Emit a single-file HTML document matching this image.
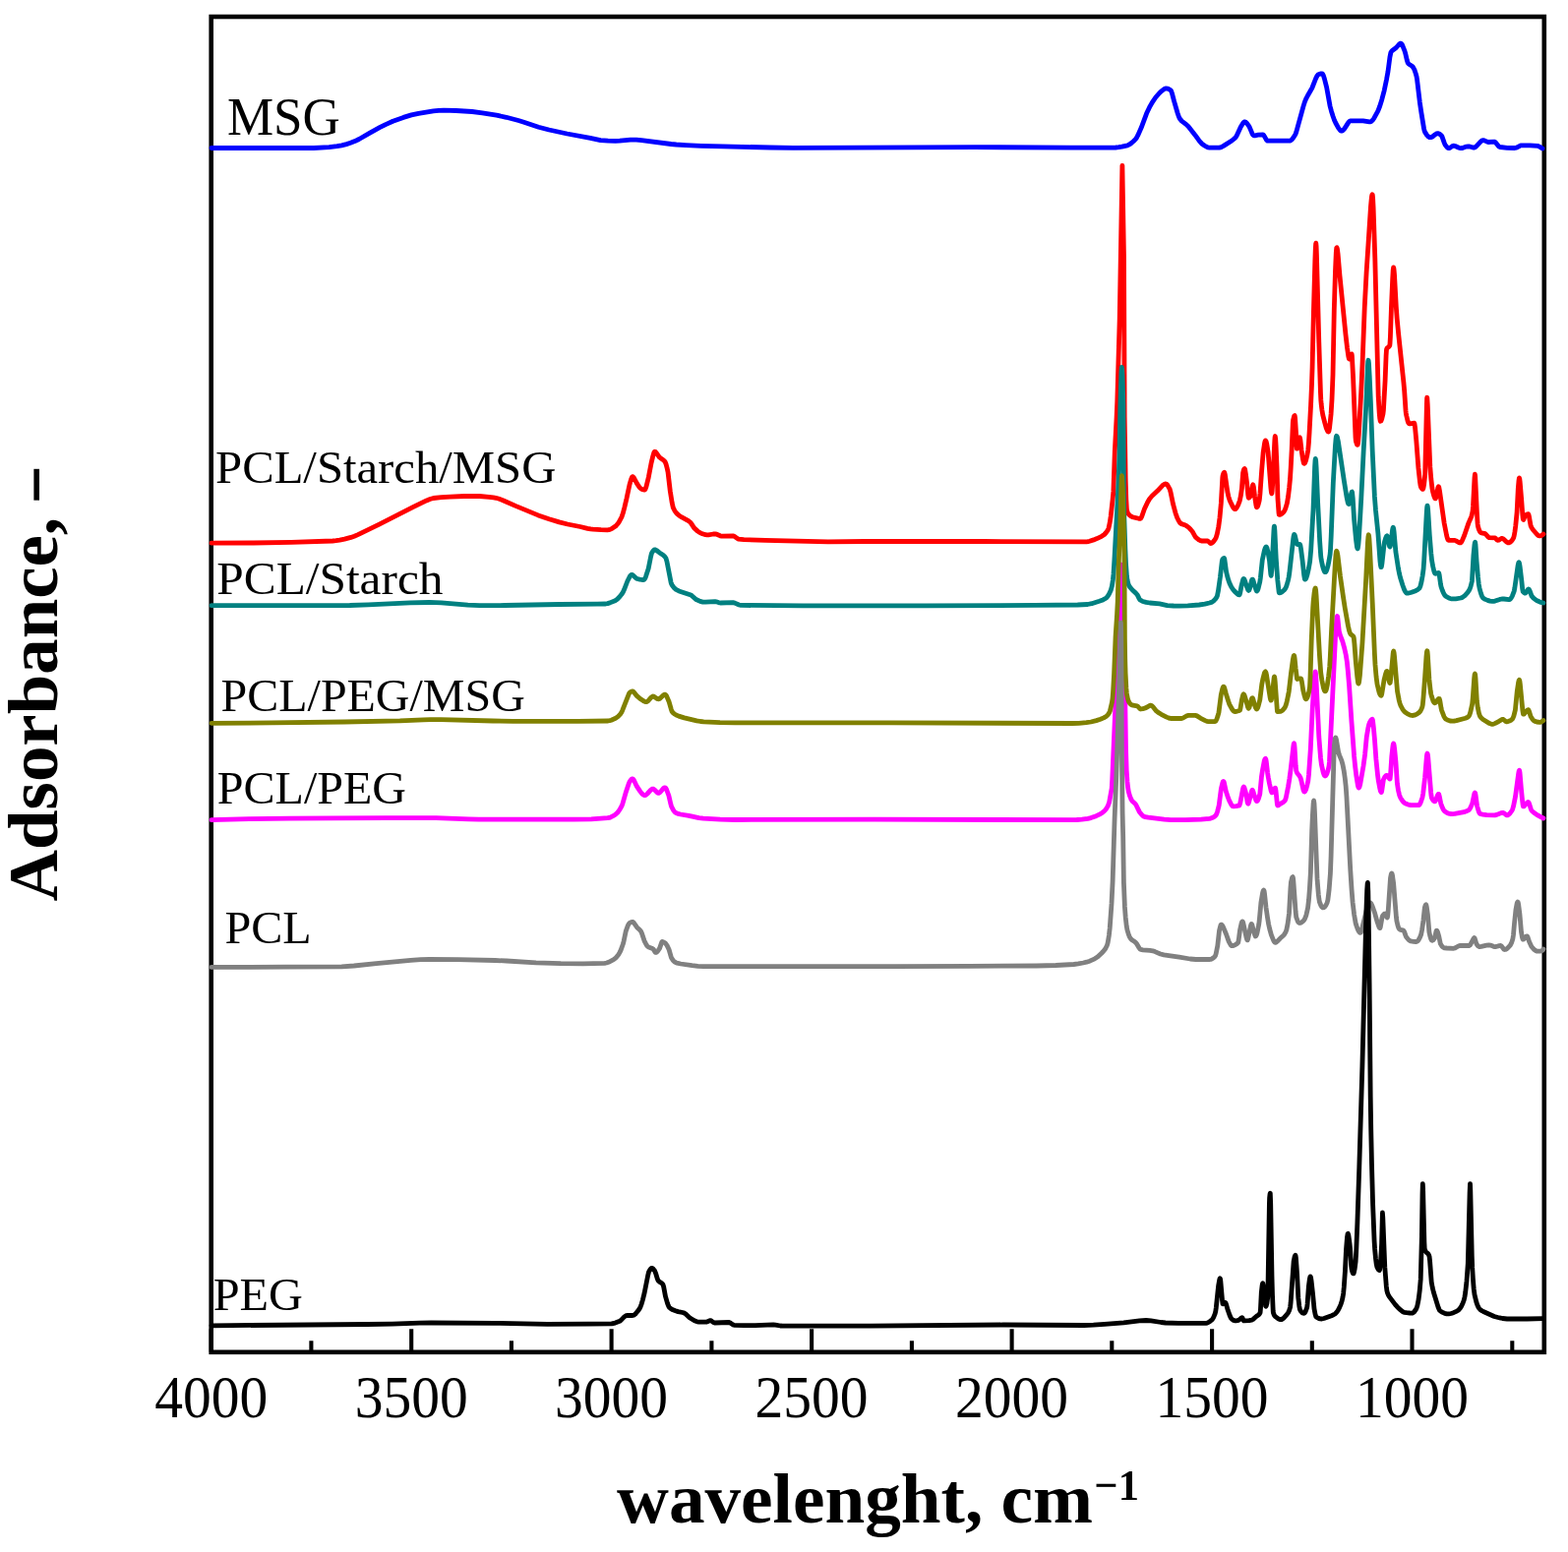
<!DOCTYPE html>
<html lang="en"><head><meta charset="utf-8"><title>FTIR spectra</title>
<style>html,body{margin:0;padding:0;background:#fff}body{width:1594px;height:1578px;overflow:hidden}svg{display:block}text{font-family:"Liberation Serif","DejaVu Serif",serif;fill:#000}.lab{font-size:46.5px}.big{font-size:54px}.tick{font-size:62px;text-anchor:middle}.ttl{font-size:72px;font-weight:bold}.curves path{fill:none;stroke-width:4.8px;stroke-linejoin:round;stroke-linecap:round}</style></head><body>
<svg width="1594" height="1578" viewBox="0 0 1594 1578">
<rect x="0" y="0" width="1594" height="1578" fill="#fff"/>
<rect x="214.7" y="17.0" width="1355.1" height="1357.8" fill="none" stroke="#000" stroke-width="4.6"/>
<path d="M214.7,1374.8V1351.2M418.2,1374.8V1351.2M621.6,1374.8V1351.2M825.1,1374.8V1351.2M1028.6,1374.8V1351.2M1232.1,1374.8V1351.2M1435.5,1374.8V1351.2M316.4,1374.8V1363.3M519.9,1374.8V1363.3M723.4,1374.8V1363.3M926.9,1374.8V1363.3M1130.3,1374.8V1363.3M1333.8,1374.8V1363.3M1537.3,1374.8V1363.3" stroke="#000" stroke-width="4.1" fill="none"/>
<g class="curves">
<path d="M215.0,150.5 319.0,150.5 334.6,149.6 342.7,148.7 347.3,147.8 352.2,146.6 356.3,145.3 360.7,143.6 365.0,141.5 375.6,135.4 385.9,129.7 392.0,126.6 399.4,123.2 410.1,119.4 418.3,116.9 425.5,115.3 440.6,112.9 446.0,112.4 451.0,112.2 463.7,112.5 480.0,113.5 490.3,114.8 504.7,117.2 514.7,119.3 527.0,122.5 532.6,124.2 547.5,129.2 558.1,132.0 576.5,136.0 600.1,140.3 610.5,142.6 618.1,143.1 625.7,143.3 630.0,143.1 640.8,142.1 646.9,142.1 652.2,142.6 682.2,146.5 687.5,147.0 697.1,147.6 712.8,148.3 734.8,148.9 782.7,150.0 806.3,150.3 990.6,149.6 1089.0,150.1 1134.1,150.0 1137.2,149.7 1140.5,149.2 1145.0,148.2 1146.6,147.7 1148.5,146.7 1150.4,145.3 1152.4,143.5 1154.5,141.4 1155.5,140.0 1156.7,137.7 1160.2,129.8 1165.6,115.3 1168.5,109.2 1171.2,104.3 1174.8,99.0 1178.5,94.7 1180.1,93.2 1183.1,90.8 1184.3,90.1 1185.4,89.9 1186.9,90.1 1188.4,90.7 1190.1,91.8 1190.7,92.7 1191.6,95.3 1193.5,102.7 1197.1,115.0 1198.3,118.5 1199.3,120.6 1201.4,123.1 1206.0,126.6 1208.2,128.8 1215.0,137.4 1218.8,142.7 1220.5,144.8 1221.9,146.2 1224.8,148.2 1226.6,149.3 1228.1,149.9 1229.5,150.1 1239.5,150.1 1241.5,149.6 1243.8,148.4 1252.3,143.0 1255.4,140.4 1256.4,139.3 1257.3,137.8 1261.3,129.0 1263.9,124.9 1264.6,124.1 1265.3,123.8 1266.1,124.0 1266.9,124.6 1269.5,127.9 1270.5,129.9 1273.0,135.9 1273.8,137.2 1274.5,137.8 1275.7,137.8 1279.0,137.2 1284.0,136.9 1284.5,137.3 1285.1,138.1 1287.4,142.2 1287.9,142.8 1288.4,143.1 1311.0,143.1 1311.7,143.0 1312.5,142.5 1313.7,141.4 1315.1,139.5 1316.8,136.7 1317.6,134.8 1324.9,108.4 1326.3,103.9 1327.5,100.9 1329.1,97.7 1333.8,89.5 1337.5,80.1 1338.8,77.4 1339.5,76.4 1340.1,75.8 1343.0,74.9 1344.1,74.8 1344.7,75.4 1345.5,77.1 1346.4,80.0 1348.6,88.6 1352.1,108.0 1353.5,113.2 1355.1,118.3 1356.5,122.2 1357.8,125.0 1360.6,130.1 1362.3,132.4 1363.1,133.0 1363.8,133.2 1364.5,133.0 1365.3,132.5 1366.9,130.6 1370.7,124.6 1371.8,123.4 1372.8,122.9 1385.7,122.8 1392.1,123.8 1393.2,123.8 1394.0,123.5 1395.3,122.3 1396.7,120.4 1400.8,112.8 1402.7,108.0 1404.8,101.2 1407.2,92.1 1409.6,80.4 1411.0,72.7 1412.9,58.3 1413.8,53.7 1414.5,52.4 1415.6,51.2 1419.3,48.5 1422.7,44.7 1423.4,44.2 1424.0,44.1 1424.7,44.5 1425.5,45.7 1427.9,51.6 1428.7,54.3 1430.4,61.6 1431.2,64.0 1432.3,65.3 1435.2,67.0 1436.5,68.3 1437.9,70.9 1439.2,74.7 1440.1,78.0 1440.5,80.3 1443.3,103.8 1444.9,114.7 1447.5,130.5 1448.0,132.7 1448.5,134.1 1450.4,137.1 1452.2,139.1 1453.5,139.7 1454.8,139.7 1456.2,139.0 1459.1,136.7 1460.4,135.9 1461.7,135.6 1463.1,136.0 1464.9,137.4 1465.9,138.6 1468.3,145.4 1469.1,147.2 1471.3,149.9 1472.1,150.5 1472.8,150.7 1473.9,150.4 1476.4,148.6 1477.6,148.2 1479.3,148.5 1483.1,150.2 1484.8,150.7 1486.7,150.5 1490.7,149.1 1492.5,148.8 1494.0,149.0 1497.4,150.0 1498.8,150.0 1499.8,149.6 1500.9,148.7 1505.6,143.6 1506.7,142.8 1507.7,142.6 1509.0,142.9 1511.8,144.1 1513.0,144.5 1518.4,144.1 1519.5,144.2 1520.7,145.2 1523.5,148.8 1524.3,149.4 1525.0,149.5 1532.2,150.3 1539.9,150.5 1541.6,150.1 1545.1,148.3 1546.6,147.8 1555.2,147.8 1563.1,148.3 1565.0,149.1 1568.0,151.0" stroke="#0000ff"/>
<path d="M215.0,552.2 257.7,552.0 296.3,551.3 338.2,550.0 341.6,549.7 345.3,549.1 350.2,548.1 356.7,546.4 360.1,545.2 363.9,543.6 385.5,533.1 419.8,515.7 433.6,508.9 437.1,507.5 440.6,506.5 448.6,505.7 457.6,505.1 471.9,504.5 481.1,504.3 487.5,504.5 497.1,505.3 501.6,505.9 504.1,506.3 507.5,507.3 511.3,508.7 524.1,514.4 547.1,523.9 558.2,527.7 568.5,530.9 577.0,533.0 589.7,535.5 597.3,537.3 600.4,537.9 603.0,538.2 611.0,538.7 617.6,538.8 618.9,538.7 620.5,538.2 622.3,537.3 625.3,535.3 626.5,534.3 627.8,532.8 629.2,530.8 632.0,525.6 633.3,521.8 634.8,516.1 636.9,507.3 639.9,493.2 641.7,486.9 642.6,484.9 642.9,484.6 643.3,484.7 644.3,485.6 647.5,491.6 649.7,494.9 650.8,496.3 652.2,497.2 654.1,497.9 655.4,498.1 655.9,497.6 657.0,494.6 659.3,485.3 662.1,470.6 663.8,463.6 664.8,460.3 665.2,459.5 665.6,459.2 666.3,459.4 667.0,460.1 670.3,464.8 671.4,465.7 674.0,467.4 675.2,468.5 676.2,469.8 677.0,471.7 678.1,475.8 679.1,480.6 681.3,499.4 683.2,511.3 684.3,516.1 685.9,519.3 687.8,521.9 690.5,524.3 692.7,525.7 699.9,529.6 701.5,530.8 702.6,532.1 705.7,536.9 709.3,540.1 711.1,541.4 712.7,542.2 717.3,543.7 718.8,543.9 720.2,543.9 725.1,543.0 727.0,542.9 728.6,543.2 732.2,544.8 733.8,545.2 745.0,544.8 746.4,545.3 749.4,547.4 750.7,548.1 756.2,548.6 778.1,549.3 841.9,550.8 878.9,550.5 1000.6,550.5 1104.8,550.8 1106.1,550.7 1107.6,550.3 1111.8,548.9 1115.1,547.6 1119.9,545.3 1122.6,543.5 1124.0,542.0 1125.5,540.1 1126.3,538.7 1127.0,537.1 1128.2,531.5 1129.2,524.8 1131.1,508.0 1131.9,499.4 1133.3,459.0 1135.1,424.5 1135.8,408.0 1138.2,324.5 1140.9,168.4 1142.5,261.4 1143.2,424.3 1144.2,488.5 1144.8,507.3 1145.4,517.8 1145.9,520.0 1146.5,521.5 1147.3,522.8 1148.6,524.1 1150.0,525.1 1151.5,525.7 1157.7,527.3 1159.1,527.4 1159.5,527.2 1160.1,526.4 1160.7,525.2 1163.4,517.5 1166.7,510.4 1168.6,507.2 1171.1,504.3 1176.7,499.1 1181.8,493.6 1183.8,492.3 1184.7,492.0 1185.5,492.1 1186.3,492.6 1187.1,493.6 1189.2,497.4 1190.2,501.2 1192.5,512.4 1195.0,521.7 1196.5,525.9 1198.1,529.3 1199.3,531.2 1200.1,532.1 1201.0,532.6 1204.4,533.7 1205.6,534.3 1208.5,536.4 1210.3,538.2 1212.0,540.2 1215.2,545.9 1217.2,547.7 1218.9,549.0 1220.2,549.7 1221.4,550.0 1227.7,550.0 1228.3,550.4 1230.3,552.4 1231.0,552.5 1231.9,552.2 1232.9,551.4 1234.0,550.1 1235.4,548.1 1236.2,546.6 1237.4,542.5 1238.8,535.4 1240.0,526.3 1241.3,511.9 1242.8,485.6 1243.0,484.0 1243.5,482.2 1244.0,480.9 1244.4,480.4 1244.6,480.3 1244.8,480.5 1245.3,482.4 1247.9,500.3 1248.8,504.6 1249.8,507.8 1250.9,510.5 1253.3,515.4 1254.5,517.2 1255.1,517.6 1255.7,517.7 1256.4,517.2 1257.1,516.4 1258.7,513.4 1260.3,509.1 1261.3,504.3 1262.4,496.7 1263.6,480.9 1264.4,477.7 1264.8,476.8 1265.2,476.5 1265.4,476.7 1265.7,477.6 1266.4,481.8 1267.7,492.0 1268.8,503.4 1269.2,505.8 1269.5,506.2 1270.3,505.7 1271.1,504.6 1272.0,502.7 1273.3,494.4 1273.6,493.2 1273.8,492.9 1273.9,493.0 1274.4,495.1 1275.5,504.3 1276.9,513.6 1277.4,515.6 1277.6,515.8 1277.9,515.7 1278.5,514.8 1279.1,513.2 1280.1,509.4 1280.4,507.6 1281.0,501.4 1282.5,480.2 1284.2,459.5 1285.6,450.3 1286.1,448.4 1286.4,447.9 1286.6,447.9 1287.1,448.7 1287.7,451.0 1289.1,459.4 1291.9,496.1 1292.4,500.5 1292.7,501.7 1292.8,501.8 1292.9,501.6 1293.2,499.4 1293.6,493.4 1295.8,448.2 1296.1,444.3 1296.3,443.5 1296.7,446.1 1297.1,452.9 1298.0,473.9 1299.0,507.5 1300.0,521.6 1300.3,523.3 1300.4,523.4 1301.2,523.3 1302.2,522.9 1303.2,522.2 1305.3,520.2 1306.0,518.9 1306.8,517.0 1308.4,511.6 1309.5,505.2 1310.7,495.3 1311.5,486.8 1312.2,475.7 1313.2,456.7 1314.3,430.3 1314.6,427.0 1315.5,423.5 1315.9,422.8 1316.2,422.6 1316.6,425.1 1317.6,441.5 1318.1,453.0 1318.4,456.2 1318.7,455.9 1319.1,454.5 1320.7,446.1 1321.1,445.0 1321.3,444.8 1321.4,444.9 1321.9,447.3 1323.0,457.3 1324.4,466.4 1325.2,470.3 1325.5,471.1 1325.8,471.4 1326.2,471.2 1326.7,470.5 1327.7,467.8 1328.8,463.0 1329.8,457.3 1330.4,450.6 1331.1,439.3 1332.6,411.2 1333.5,390.9 1334.1,372.8 1335.4,317.0 1336.8,266.2 1337.3,252.6 1337.6,248.1 1337.8,247.2 1338.1,250.2 1338.4,258.0 1340.8,347.8 1342.5,400.5 1342.8,406.7 1343.2,411.1 1343.9,416.8 1344.8,422.1 1346.9,430.4 1348.3,435.3 1349.5,438.1 1350.0,438.8 1350.5,439.0 1350.7,438.8 1351.0,438.1 1351.6,434.8 1353.1,420.9 1354.0,406.3 1355.0,381.0 1356.3,314.5 1357.5,275.0 1358.3,256.6 1358.7,252.2 1358.8,251.8 1359.0,251.7 1359.5,253.5 1360.1,258.3 1362.0,280.4 1368.0,340.6 1369.5,353.5 1370.8,362.4 1371.4,364.8 1371.7,365.0 1372.1,364.5 1373.4,361.0 1373.9,360.1 1374.1,360.0 1374.2,360.2 1374.4,361.7 1375.6,384.3 1378.0,444.5 1378.3,448.0 1378.7,449.8 1379.5,452.0 1379.8,452.3 1380.1,452.3 1380.4,451.2 1380.7,449.0 1381.3,441.6 1383.7,398.9 1385.0,370.6 1387.2,313.2 1389.1,277.1 1393.5,209.7 1394.4,200.3 1394.8,198.2 1395.1,197.7 1395.3,198.3 1395.6,201.4 1396.1,211.1 1397.8,262.3 1401.2,403.2 1402.2,420.1 1402.7,425.3 1403.2,428.0 1403.4,428.3 1403.9,428.0 1404.8,425.8 1406.0,420.7 1406.4,417.3 1408.1,387.0 1409.1,361.4 1409.5,355.4 1409.7,354.7 1410.3,353.7 1411.8,352.6 1412.4,351.9 1412.8,351.1 1413.0,349.7 1413.4,342.6 1414.5,311.3 1415.7,283.3 1416.2,274.5 1416.6,271.9 1417.0,273.4 1417.5,278.9 1419.3,312.0 1420.2,324.1 1421.7,339.7 1426.9,388.8 1427.7,397.8 1429.0,417.2 1429.3,420.1 1429.8,422.8 1431.1,428.2 1431.7,429.8 1432.2,430.6 1432.5,430.8 1433.2,430.8 1437.7,430.2 1438.0,430.9 1438.6,435.2 1439.8,448.1 1441.9,475.7 1443.4,489.3 1444.0,493.3 1444.5,495.3 1445.6,497.0 1446.1,497.4 1446.5,497.3 1447.0,496.1 1447.6,492.9 1448.7,482.5 1450.4,410.8 1450.6,405.0 1450.7,404.2 1450.8,404.5 1451.3,412.5 1453.8,474.7 1454.8,486.9 1455.9,496.3 1456.6,500.1 1457.7,504.2 1458.5,506.2 1458.9,506.8 1459.2,506.9 1459.6,506.4 1460.0,505.0 1461.9,495.6 1462.4,494.8 1462.8,495.5 1463.5,499.1 1468.2,532.1 1470.6,544.4 1471.3,547.1 1471.9,548.7 1472.2,549.1 1472.5,549.3 1478.9,549.4 1480.1,549.9 1483.2,551.6 1484.1,551.9 1484.8,551.9 1485.5,551.3 1486.2,550.1 1488.7,544.2 1493.0,531.6 1495.7,525.5 1496.4,523.0 1497.1,519.6 1497.5,514.7 1499.0,485.8 1499.4,482.2 1499.7,485.0 1501.4,521.2 1502.1,532.5 1502.4,534.8 1503.3,538.0 1504.2,540.2 1505.1,541.5 1506.0,541.8 1508.7,542.3 1509.7,542.6 1510.7,543.5 1512.8,545.9 1513.8,546.7 1519.6,546.8 1520.2,547.2 1521.7,548.8 1522.4,549.3 1523.6,549.1 1526.3,547.5 1527.0,547.4 1527.6,547.5 1528.9,548.4 1531.8,551.2 1533.0,551.8 1534.0,551.8 1535.1,551.3 1536.2,550.4 1537.4,548.9 1538.6,547.0 1539.2,544.9 1540.0,540.4 1540.8,534.2 1542.1,520.8 1543.3,496.7 1544.0,488.5 1544.3,486.5 1544.5,486.0 1544.8,486.8 1545.2,490.1 1546.6,506.6 1547.8,523.2 1548.2,527.0 1548.5,528.3 1548.7,528.4 1549.0,527.9 1550.4,524.1 1552.2,523.0 1553.1,522.7 1553.7,522.7 1554.0,523.3 1554.4,525.0 1556.0,534.2 1557.0,536.5 1558.3,538.5 1562.4,543.3 1563.4,544.2 1564.2,544.7 1565.2,544.9 1566.7,544.6 1567.9,544.0 1569.0,543.0" stroke="#ff0000"/>
<path d="M215.0,615.7 355.6,615.5 374.4,614.9 417.0,612.9 436.4,612.5 442.4,612.6 448.7,612.8 475.6,615.2 487.5,615.7 513.3,615.5 568.5,614.5 607.3,614.2 615.6,614.0 617.7,613.6 620.0,612.9 625.3,610.7 627.5,609.2 629.9,606.8 631.9,604.3 633.3,602.2 634.4,599.8 637.8,591.0 640.4,585.9 641.6,584.5 642.3,584.3 643.3,584.7 646.5,587.7 647.7,588.5 650.4,589.1 652.7,589.5 654.4,589.6 655.0,589.2 655.8,588.0 656.6,586.1 659.2,578.0 661.6,565.9 662.4,562.7 662.8,561.8 664.1,559.9 664.9,559.1 665.6,558.9 666.4,559.0 667.3,559.5 670.4,561.9 674.0,564.2 675.6,565.7 677.0,567.6 678.0,571.1 682.1,592.3 682.5,593.5 683.3,595.0 685.2,597.6 687.2,599.3 690.2,600.9 702.4,605.0 703.6,605.9 706.5,608.6 707.7,609.5 711.7,611.4 714.5,612.1 717.3,612.2 726.9,611.6 728.1,611.8 731.0,612.8 732.3,613.0 745.1,612.6 747.0,613.1 751.3,615.0 753.1,615.4 816.0,615.9 940.7,615.9 1051.9,615.4 1095.5,615.0 1105.6,614.5 1109.8,613.7 1117.5,611.3 1120.4,610.3 1123.4,608.7 1124.5,608.0 1125.3,607.2 1126.4,605.8 1127.6,603.8 1129.2,600.3 1130.4,595.9 1131.4,589.5 1132.0,583.5 1132.9,568.8 1136.2,507.6 1137.1,488.1 1138.0,461.4 1138.8,415.0 1139.3,395.7 1139.9,377.7 1140.3,373.3 1140.7,375.4 1141.1,382.1 1141.9,410.7 1142.4,503.7 1142.8,525.3 1143.9,558.6 1144.6,574.0 1145.5,586.2 1146.1,590.0 1146.8,593.0 1147.5,595.0 1148.6,596.9 1151.3,600.0 1154.5,602.9 1155.8,604.3 1156.5,605.4 1158.2,608.9 1158.9,609.9 1161.7,611.5 1165.1,612.4 1168.9,613.0 1178.8,613.9 1186.6,615.6 1193.1,616.0 1198.7,616.2 1207.5,615.9 1219.0,615.0 1224.8,614.2 1229.5,613.0 1232.2,612.1 1234.0,610.8 1235.9,608.6 1237.0,606.9 1237.4,605.9 1238.4,601.1 1240.4,587.0 1242.3,570.6 1242.8,568.7 1243.7,567.8 1244.4,567.5 1244.7,568.0 1245.0,569.5 1246.5,580.9 1247.7,586.0 1248.9,590.2 1250.1,593.4 1251.6,596.4 1253.4,599.3 1255.2,601.4 1258.3,604.2 1259.4,604.7 1259.9,604.8 1260.1,604.7 1260.7,602.8 1262.1,595.3 1263.2,591.0 1263.8,589.0 1264.3,588.4 1264.7,588.7 1265.2,589.6 1267.3,596.1 1268.7,599.6 1269.1,600.2 1269.4,600.4 1269.8,600.0 1270.3,598.8 1272.5,590.0 1273.0,589.1 1273.4,589.1 1274.1,590.6 1275.5,595.7 1276.8,599.5 1277.3,600.7 1277.6,601.0 1277.8,601.0 1278.4,600.3 1279.1,598.5 1280.8,591.5 1281.4,587.3 1283.3,569.2 1285.3,560.0 1286.1,557.4 1286.8,556.2 1287.1,556.0 1287.4,556.1 1287.9,556.9 1289.1,561.9 1290.5,570.1 1291.8,583.7 1292.1,585.1 1292.2,585.2 1292.3,585.0 1292.9,578.8 1294.9,540.1 1295.2,536.0 1295.4,535.1 1295.6,535.9 1295.9,539.4 1297.2,567.1 1298.8,590.0 1300.1,601.7 1300.4,602.8 1301.2,602.8 1302.4,602.4 1303.7,601.5 1305.1,600.3 1306.5,598.7 1307.2,597.4 1307.9,595.6 1309.4,590.3 1310.2,586.7 1310.8,582.7 1314.6,548.7 1315.1,545.1 1315.6,543.5 1315.8,543.4 1316.0,543.6 1316.4,544.6 1318.0,551.6 1318.6,553.3 1318.9,553.5 1321.4,553.5 1321.6,553.7 1321.9,554.5 1322.5,557.9 1324.1,570.2 1325.6,584.3 1326.3,588.6 1326.5,589.0 1326.7,589.1 1327.1,588.9 1327.5,588.4 1328.2,586.9 1329.0,584.3 1330.2,579.0 1331.6,571.2 1332.7,559.1 1335.0,518.3 1336.6,474.6 1337.0,468.1 1337.3,466.4 1337.7,468.7 1338.1,474.8 1339.7,512.2 1341.7,550.9 1342.7,565.3 1343.1,568.5 1344.2,574.1 1345.1,577.8 1346.0,580.3 1346.7,581.5 1347.0,581.7 1347.4,581.7 1348.1,581.0 1348.9,579.2 1349.9,575.7 1351.0,570.3 1352.1,563.6 1352.5,559.3 1353.2,545.3 1355.3,491.2 1357.4,453.8 1358.1,445.8 1358.4,443.9 1358.7,443.3 1359.1,443.7 1359.5,444.7 1360.5,449.5 1366.4,489.1 1369.1,505.8 1370.1,510.6 1370.5,511.8 1370.9,512.4 1371.2,512.5 1371.5,512.0 1372.1,509.8 1373.7,501.5 1374.2,500.2 1374.4,500.1 1374.6,500.5 1375.2,506.2 1376.6,528.3 1378.4,547.9 1379.4,555.8 1379.9,557.6 1380.1,557.8 1380.3,557.5 1380.9,553.8 1381.5,546.5 1383.8,506.6 1386.1,460.0 1388.7,413.0 1390.3,373.6 1390.7,367.8 1391.0,366.3 1391.2,366.9 1391.5,369.6 1392.2,382.2 1393.4,409.3 1395.2,458.7 1397.4,504.9 1398.5,519.0 1400.9,542.3 1402.9,569.9 1403.4,574.5 1403.9,576.7 1404.1,576.7 1404.4,576.0 1404.9,573.2 1407.1,553.1 1407.5,551.0 1408.4,547.8 1409.5,545.2 1410.0,544.8 1410.3,545.1 1410.9,547.2 1412.3,554.5 1412.7,555.7 1412.9,556.0 1413.1,555.9 1413.5,554.8 1413.9,552.4 1415.6,538.5 1416.0,536.7 1416.3,536.2 1416.7,537.4 1417.1,540.5 1418.9,561.2 1421.4,577.5 1422.5,583.1 1423.5,587.3 1425.9,595.0 1427.5,599.4 1428.5,601.4 1429.4,602.6 1430.2,603.1 1431.2,603.1 1434.1,602.5 1439.2,600.7 1441.3,599.5 1443.0,598.0 1444.0,595.7 1445.0,591.7 1446.1,585.6 1447.1,578.3 1447.7,569.6 1450.3,520.6 1450.7,515.5 1451.0,514.1 1451.3,515.0 1451.7,518.8 1453.3,544.5 1454.8,562.4 1455.6,569.9 1456.7,576.0 1457.8,580.7 1458.3,582.2 1458.8,583.1 1459.1,583.3 1459.4,583.3 1462.0,582.5 1462.5,582.5 1462.7,582.7 1463.2,584.7 1464.5,594.0 1465.0,596.5 1466.2,600.0 1467.4,602.9 1468.5,604.9 1469.6,606.2 1472.8,608.0 1474.2,608.5 1475.6,608.8 1479.9,608.8 1485.1,608.0 1487.0,607.2 1489.1,605.6 1492.0,602.4 1493.5,600.2 1494.3,598.5 1495.1,596.3 1496.4,591.0 1497.9,564.8 1498.9,554.4 1499.3,551.9 1499.6,551.2 1500.0,553.6 1501.1,570.6 1502.5,586.8 1503.3,594.1 1504.1,598.3 1505.4,603.2 1506.5,606.2 1507.6,607.9 1509.9,609.4 1512.3,610.4 1514.7,611.1 1517.1,611.4 1518.4,611.4 1519.8,611.1 1524.7,609.4 1526.7,609.0 1528.7,609.0 1534.0,609.7 1534.7,609.6 1535.4,609.1 1536.3,607.9 1537.3,606.1 1539.3,600.8 1539.9,597.5 1543.0,575.6 1543.6,572.7 1543.9,572.0 1544.1,571.8 1544.3,572.0 1544.6,572.9 1545.1,575.8 1546.8,590.0 1547.7,598.9 1548.2,601.5 1549.5,602.7 1550.1,603.0 1550.7,603.0 1551.5,602.2 1553.3,599.4 1553.8,599.0 1554.2,599.1 1555.0,600.4 1557.0,605.9 1558.9,608.1 1560.9,609.7 1563.2,611.1 1566.5,612.4 1569.0,613.0" stroke="#008080"/>
<path d="M215.0,833.6 253.3,832.7 294.5,832.1 339.6,831.8 393.1,831.6 443.4,831.6 476.4,832.9 486.8,833.1 582.8,833.2 601.1,832.8 617.7,831.7 619.4,831.4 621.2,830.7 623.2,829.7 625.5,828.3 627.7,826.3 630.0,823.1 631.9,819.8 632.8,817.6 636.1,806.1 639.3,796.4 640.0,794.9 641.4,792.9 642.3,792.0 643.0,791.8 643.6,792.1 644.3,793.0 647.3,799.4 650.6,804.4 652.5,806.9 654.1,808.3 655.4,808.7 656.7,808.2 658.1,807.0 661.6,803.2 662.7,802.4 663.6,802.1 664.3,802.2 665.1,802.7 668.4,806.0 669.2,806.4 669.9,806.3 671.3,805.3 674.6,801.4 675.5,800.9 676.2,800.8 676.9,801.5 677.6,802.7 679.9,809.0 681.9,817.7 682.5,819.8 684.6,823.8 685.6,825.2 686.5,826.1 687.2,826.6 688.5,827.1 691.8,828.0 700.2,829.3 710.6,831.6 715.0,832.2 732.2,833.1 747.9,833.5 889.1,833.2 1090.1,833.7 1094.7,833.5 1099.8,833.1 1105.8,832.3 1109.0,831.6 1114.3,829.7 1118.6,827.6 1120.4,826.4 1122.1,825.1 1123.6,823.6 1124.7,822.2 1126.3,819.3 1127.6,815.9 1130.2,801.4 1130.7,793.0 1134.1,712.8 1137.7,617.3 1138.8,582.6 1139.1,576.4 1139.4,574.0 1139.8,577.4 1140.2,586.3 1142.4,653.2 1143.5,694.8 1144.5,761.4 1145.2,783.3 1146.0,794.9 1146.6,800.5 1147.3,804.8 1148.4,808.9 1149.6,812.0 1150.4,813.5 1151.3,814.8 1153.8,817.0 1154.8,818.2 1158.3,825.4 1160.8,828.5 1162.6,830.1 1164.2,830.7 1167.4,831.2 1183.6,833.2 1190.2,833.7 1204.9,833.6 1220.9,833.1 1229.4,832.4 1230.8,832.1 1232.2,831.6 1234.1,830.6 1235.9,829.1 1236.7,827.7 1237.6,825.2 1239.2,818.9 1241.4,801.9 1242.8,796.0 1243.3,794.7 1243.7,794.4 1244.0,794.7 1244.4,795.7 1246.3,804.5 1248.5,811.2 1249.7,814.1 1251.4,817.4 1252.3,818.9 1253.1,819.7 1254.0,819.8 1256.8,819.6 1259.2,819.2 1260.0,818.9 1260.8,816.2 1263.6,801.8 1264.0,800.4 1264.3,800.1 1264.6,800.3 1265.0,801.0 1265.8,803.6 1266.9,808.1 1268.1,815.5 1268.6,817.1 1268.8,817.2 1269.0,817.0 1269.5,815.8 1272.3,804.9 1272.7,803.7 1273.1,803.3 1273.5,803.7 1273.9,804.6 1275.2,809.1 1276.8,813.6 1277.4,814.6 1277.9,814.6 1278.6,813.8 1279.3,812.3 1280.8,807.2 1282.4,790.2 1283.5,782.9 1285.2,773.9 1285.9,771.9 1286.2,771.5 1286.5,771.3 1286.9,772.2 1287.3,774.5 1288.6,785.8 1289.3,790.4 1290.5,796.8 1292.2,804.1 1292.8,805.7 1293.1,805.9 1293.4,805.8 1294.1,804.8 1295.7,801.6 1296.2,801.1 1296.5,801.1 1297.0,803.8 1298.4,817.7 1298.7,818.9 1299.0,819.0 1299.6,818.8 1301.9,817.1 1304.5,815.6 1305.7,814.7 1306.5,813.6 1307.3,811.1 1309.6,799.5 1310.8,792.1 1312.2,781.8 1314.8,759.0 1315.2,756.5 1315.5,755.8 1315.8,757.0 1316.1,760.2 1317.2,778.3 1317.7,783.6 1318.1,784.8 1318.8,786.3 1321.1,789.1 1322.0,790.7 1322.8,793.5 1325.0,803.3 1325.7,804.9 1326.0,805.1 1326.4,804.9 1327.0,804.1 1327.6,802.8 1328.9,798.1 1329.8,793.9 1330.5,787.5 1332.3,761.5 1334.2,721.0 1335.6,698.1 1336.5,686.5 1336.9,683.7 1337.2,683.0 1337.6,685.4 1338.0,691.4 1340.8,749.0 1342.5,770.5 1343.4,777.5 1345.2,785.4 1345.9,787.4 1346.5,788.6 1347.1,789.0 1347.8,788.6 1348.9,786.7 1350.1,782.9 1351.1,778.4 1351.5,774.2 1357.6,645.8 1358.7,630.8 1359.1,627.4 1359.4,626.5 1359.6,626.9 1359.9,628.7 1361.3,641.8 1362.4,645.9 1364.8,652.2 1366.7,659.0 1368.2,665.7 1369.3,672.6 1370.3,682.2 1371.6,697.6 1373.9,733.0 1376.6,768.9 1377.7,779.9 1378.7,788.0 1380.3,798.1 1380.8,800.2 1381.2,801.0 1381.6,800.8 1382.0,800.1 1382.8,797.2 1386.0,778.9 1387.6,767.1 1389.3,749.1 1390.7,740.8 1391.6,736.8 1392.4,734.4 1393.9,732.0 1394.5,731.5 1395.0,731.3 1395.3,731.8 1395.6,733.3 1396.3,739.3 1397.4,751.1 1398.9,772.0 1400.6,788.7 1401.3,793.8 1402.7,801.4 1403.5,804.6 1404.1,805.6 1404.4,805.4 1404.8,803.7 1406.4,792.7 1407.8,789.9 1409.0,788.6 1409.5,788.3 1410.0,788.3 1410.7,789.0 1412.3,791.5 1412.8,792.0 1413.0,792.0 1413.1,791.9 1413.6,787.5 1414.8,769.0 1415.9,758.9 1416.3,756.6 1416.6,756.0 1416.9,756.5 1417.2,757.9 1417.9,763.6 1419.0,775.3 1420.4,796.7 1421.5,803.7 1422.6,808.3 1423.7,811.1 1425.0,813.3 1426.3,815.0 1427.6,816.3 1428.8,817.1 1431.5,818.1 1434.2,818.6 1442.1,818.7 1442.6,818.5 1443.1,818.0 1444.1,816.2 1446.0,810.7 1446.7,806.8 1448.6,790.2 1450.3,769.6 1450.7,766.8 1451.0,766.1 1451.4,767.3 1451.8,770.6 1454.6,805.2 1455.0,809.0 1455.4,811.1 1456.3,812.9 1457.2,814.1 1458.0,814.8 1458.8,814.8 1459.6,813.6 1461.6,808.2 1462.1,807.4 1462.5,807.3 1462.8,807.8 1463.2,809.3 1464.7,816.8 1466.4,821.3 1467.3,823.2 1468.2,824.5 1468.9,825.1 1470.7,826.3 1472.5,827.1 1474.2,827.5 1476.1,827.6 1478.8,827.4 1482.9,826.7 1488.2,825.7 1490.8,824.8 1493.0,823.7 1493.8,822.9 1494.7,821.5 1496.7,817.1 1498.6,807.9 1499.0,806.5 1499.4,806.0 1499.7,806.5 1500.0,807.9 1501.6,819.6 1503.3,825.2 1504.0,826.8 1504.6,827.5 1507.5,828.1 1511.3,828.6 1519.6,828.9 1521.6,828.4 1525.9,826.6 1527.7,826.3 1528.8,826.7 1531.5,828.8 1532.3,828.9 1533.3,828.6 1535.0,827.0 1537.0,824.1 1537.7,822.7 1538.5,819.9 1540.5,810.0 1543.7,786.4 1544.1,784.1 1544.5,783.2 1544.8,784.0 1545.1,786.1 1546.4,801.7 1547.6,814.0 1548.1,818.2 1548.5,819.9 1549.1,819.9 1549.8,819.3 1552.7,815.9 1553.3,815.5 1553.8,815.6 1554.6,817.1 1556.4,823.0 1556.8,823.8 1557.6,824.8 1559.3,826.3 1563.2,828.9 1566.3,830.7 1569.0,832.0" stroke="#ff00ff"/>
<path d="M215.0,735.3 276.9,734.9 350.2,734.0 406.6,732.9 430.3,731.8 437.5,731.6 448.1,731.7 501.0,733.0 521.5,733.3 587.9,733.4 618.1,733.0 619.7,732.7 621.4,732.2 625.8,730.3 628.2,728.6 630.6,726.1 631.6,724.7 632.8,722.2 639.4,705.3 640.0,704.4 640.9,703.7 642.0,703.1 643.0,702.9 643.7,703.1 644.4,703.7 647.5,707.7 651.3,710.8 654.3,712.8 655.5,713.3 656.7,713.6 657.7,713.5 658.6,713.0 661.9,709.1 663.3,708.1 664.0,708.0 664.8,708.2 668.1,710.4 668.9,710.7 669.6,710.8 670.3,710.6 671.1,710.0 674.7,706.6 675.6,706.1 676.3,706.2 677.0,706.8 677.7,707.9 680.0,713.2 682.3,721.2 683.1,723.4 684.1,724.6 685.7,726.0 687.4,727.0 690.0,728.1 695.6,729.9 708.3,732.8 712.1,733.5 715.4,733.8 731.9,734.6 747.3,734.9 904.4,734.9 1090.3,735.5 1096.8,735.3 1104.4,734.7 1109.0,734.0 1114.5,732.6 1118.7,731.3 1122.0,729.9 1124.8,728.2 1126.6,726.3 1127.8,724.4 1128.4,722.9 1130.4,714.3 1131.0,710.4 1131.7,701.1 1132.6,684.7 1134.1,646.7 1135.6,624.0 1136.2,612.0 1137.2,574.0 1138.7,536.0 1139.7,498.0 1140.1,487.3 1140.4,483.6 1140.6,484.4 1140.9,488.1 1141.5,500.6 1142.8,555.7 1143.0,574.0 1143.4,650.0 1143.7,669.8 1144.1,684.3 1144.9,699.7 1145.3,704.3 1145.8,707.6 1146.5,710.8 1147.3,713.1 1148.6,715.2 1149.9,716.4 1151.9,717.2 1156.1,717.9 1156.9,718.5 1158.7,720.5 1159.2,720.9 1159.7,721.0 1161.7,720.7 1165.0,719.6 1168.9,717.4 1169.7,717.2 1170.4,717.3 1171.2,717.8 1172.0,718.6 1175.5,722.9 1177.4,724.4 1180.5,726.3 1185.9,729.1 1187.8,729.9 1189.4,730.4 1190.6,730.5 1201.2,730.5 1202.7,730.0 1206.1,728.0 1207.6,727.4 1215.0,727.3 1216.8,727.9 1220.6,730.3 1225.1,732.6 1226.8,733.3 1228.5,733.6 1235.2,733.6 1236.0,733.0 1236.9,731.2 1237.9,728.3 1239.0,724.4 1241.3,706.3 1242.8,700.1 1243.3,698.7 1243.8,698.1 1244.0,698.1 1244.3,698.4 1244.8,699.6 1246.3,705.2 1248.8,713.3 1249.8,716.1 1252.5,721.0 1253.5,722.4 1254.4,723.2 1255.2,723.5 1257.3,723.3 1259.1,722.8 1260.5,722.1 1261.0,720.2 1262.3,712.1 1263.5,707.1 1263.9,706.1 1264.2,705.8 1264.8,706.3 1265.4,707.8 1268.6,719.0 1269.1,720.2 1269.3,720.3 1269.5,720.2 1270.0,719.3 1272.2,711.1 1272.7,709.9 1273.1,709.6 1273.4,709.8 1273.8,710.7 1275.3,716.3 1276.6,719.8 1277.3,720.9 1277.6,721.0 1277.9,720.8 1278.5,719.8 1279.1,718.2 1280.8,711.6 1282.8,695.5 1284.0,689.5 1285.3,684.6 1285.9,683.3 1286.4,682.9 1286.9,683.6 1287.5,686.1 1291.1,708.9 1291.6,711.2 1292.0,712.1 1292.2,712.0 1292.4,711.6 1292.8,709.5 1294.1,699.2 1295.1,689.5 1295.4,688.1 1295.5,688.0 1295.6,688.1 1295.9,689.7 1296.3,693.8 1298.4,722.8 1298.6,723.5 1301.8,723.4 1302.8,722.9 1303.8,722.2 1306.2,719.4 1307.1,717.3 1308.2,713.3 1309.7,706.3 1310.3,702.8 1312.5,684.0 1314.4,670.4 1315.0,667.4 1315.3,666.7 1315.5,666.5 1315.8,667.2 1316.1,669.1 1317.2,680.1 1318.5,690.1 1318.7,690.5 1322.0,689.9 1322.5,689.9 1322.7,690.1 1323.3,692.5 1324.8,702.3 1325.9,706.8 1327.0,710.2 1327.5,710.8 1328.0,710.7 1328.9,709.4 1329.8,706.9 1330.7,703.2 1331.5,698.6 1332.0,688.7 1333.2,651.1 1334.7,617.6 1335.1,611.8 1336.0,603.4 1336.6,599.5 1336.9,598.4 1337.2,598.0 1337.6,599.7 1338.1,605.9 1341.5,667.0 1342.7,683.9 1343.8,691.4 1345.3,698.9 1346.4,702.2 1346.9,702.9 1347.4,702.9 1347.9,702.2 1348.4,700.8 1349.4,696.0 1350.6,687.6 1351.7,677.9 1352.3,667.9 1353.7,638.0 1357.2,575.1 1358.0,564.0 1358.4,561.0 1358.7,560.3 1359.0,560.6 1359.3,561.4 1359.9,564.4 1362.5,586.1 1365.5,606.9 1367.3,618.5 1370.5,636.5 1371.5,641.0 1372.4,643.7 1373.3,645.1 1374.9,646.2 1375.5,646.8 1376.0,647.6 1376.3,648.8 1376.9,654.5 1378.3,673.0 1379.8,688.4 1380.5,693.7 1380.8,694.8 1381.1,695.0 1381.4,694.2 1381.8,692.1 1382.5,685.9 1384.9,654.4 1388.7,588.2 1390.4,552.3 1390.9,545.7 1391.3,543.8 1391.6,544.7 1391.9,547.4 1392.6,558.4 1395.3,614.6 1397.4,665.0 1398.0,676.0 1399.0,687.6 1400.0,695.5 1401.9,703.5 1402.7,705.8 1403.5,707.1 1403.9,707.4 1404.2,707.3 1404.7,705.8 1407.0,691.6 1408.6,685.0 1409.5,682.7 1409.9,682.5 1410.3,683.3 1412.3,693.0 1412.8,694.4 1413.0,694.5 1413.2,694.2 1413.8,689.9 1416.1,665.1 1416.4,662.9 1416.7,662.1 1417.1,663.4 1417.5,666.9 1420.5,702.7 1422.2,711.8 1423.1,715.2 1424.0,717.7 1425.9,721.2 1427.9,723.7 1429.0,724.6 1430.5,725.6 1433.6,727.1 1435.7,727.5 1437.8,727.2 1440.3,726.1 1442.9,724.2 1444.0,722.9 1445.0,721.0 1445.9,718.6 1446.3,716.5 1447.0,709.2 1448.6,688.2 1450.0,667.2 1450.4,663.2 1450.8,661.7 1451.1,662.9 1451.4,666.2 1452.9,690.7 1454.2,702.5 1454.7,705.5 1455.3,707.8 1457.0,712.9 1457.7,714.2 1458.4,714.8 1459.0,714.7 1459.6,714.2 1462.2,710.7 1462.8,710.3 1463.2,710.5 1463.8,712.5 1465.1,720.3 1465.6,722.4 1468.0,728.6 1469.0,730.3 1469.9,731.2 1472.1,732.3 1474.2,733.0 1476.0,733.2 1478.1,733.1 1480.6,732.6 1489.7,730.2 1492.0,729.2 1492.9,728.6 1493.3,728.1 1494.1,726.4 1494.9,723.8 1496.7,715.4 1497.3,709.1 1498.7,689.2 1499.1,685.8 1499.4,685.0 1499.7,686.2 1500.0,689.5 1501.4,713.1 1502.3,719.6 1503.4,724.9 1504.4,728.0 1505.7,729.8 1507.6,731.5 1514.3,735.6 1515.7,736.1 1517.0,736.3 1518.4,736.1 1520.1,735.4 1523.5,733.6 1526.1,731.9 1527.2,731.4 1527.8,731.3 1528.3,731.5 1530.6,733.4 1531.6,733.8 1533.0,733.6 1534.4,733.1 1535.9,732.3 1537.4,731.1 1538.1,730.0 1538.9,727.9 1540.4,721.9 1542.2,703.4 1543.6,693.9 1544.1,691.9 1544.5,691.3 1544.9,692.4 1545.3,695.3 1547.9,722.5 1548.5,726.1 1548.9,726.2 1549.6,725.7 1552.4,722.4 1553.1,721.8 1553.7,721.7 1554.0,722.1 1554.4,723.0 1556.1,728.5 1557.9,731.3 1559.4,732.9 1560.4,733.4 1562.3,734.0 1565.1,734.4 1566.0,734.3 1566.9,733.9 1569.0,732.5" stroke="#808000"/>
<path d="M215.0,983.4 291.0,983.2 347.3,982.8 359.8,982.0 382.5,979.6 417.5,976.4 427.7,975.7 436.6,975.4 465.4,975.6 503.4,976.5 515.0,977.0 544.9,978.8 570.2,979.7 592.8,979.8 614.7,979.3 616.6,979.0 618.7,978.3 623.8,975.7 625.1,974.7 626.4,973.5 629.0,970.2 630.0,968.4 631.1,966.1 633.3,960.0 634.1,957.1 636.2,946.9 638.2,941.4 639.1,939.5 640.0,938.4 641.6,937.7 643.0,937.4 643.7,937.6 644.4,938.3 647.6,942.9 650.4,945.5 651.6,947.0 652.5,949.0 655.0,956.6 656.6,959.7 657.8,961.6 658.6,962.5 659.4,963.0 662.7,964.2 663.9,964.8 664.5,965.5 665.7,967.7 666.3,968.4 666.9,968.5 667.6,968.1 669.2,966.3 670.6,964.1 672.7,958.0 673.1,957.5 674.0,957.6 675.1,958.1 676.4,959.0 678.0,961.1 680.1,965.5 682.4,973.7 684.2,976.4 686.1,978.2 687.0,978.7 688.3,979.1 692.0,980.0 703.5,981.7 709.5,982.3 715.4,982.6 909.7,982.6 985.8,982.4 1054.0,982.0 1073.3,981.5 1091.6,980.5 1096.1,979.9 1101.1,979.0 1104.6,978.2 1107.8,977.2 1112.9,974.8 1116.0,972.8 1120.0,969.0 1122.4,966.4 1123.8,964.5 1125.5,961.0 1126.2,958.4 1127.4,951.1 1128.2,944.0 1130.0,918.9 1131.1,896.4 1133.1,832.3 1134.8,789.4 1136.1,750.9 1139.4,633.0 1139.7,642.6 1139.9,660.0 1140.4,763.4 1141.1,826.7 1141.7,850.7 1142.4,897.4 1143.4,921.9 1144.2,932.5 1145.2,941.4 1145.9,945.4 1147.3,950.1 1148.4,952.7 1149.5,954.5 1150.8,955.8 1153.6,957.6 1154.8,958.6 1155.8,960.0 1158.0,963.8 1159.1,965.1 1159.7,965.4 1161.9,965.8 1169.0,966.4 1171.8,966.8 1174.1,967.6 1179.7,970.0 1183.2,970.9 1188.2,971.7 1198.8,973.2 1209.9,975.0 1215.7,975.5 1229.4,975.5 1230.6,975.4 1231.9,974.9 1233.5,973.9 1235.1,972.4 1235.6,971.5 1236.1,969.9 1237.8,961.6 1239.5,946.3 1240.6,941.7 1241.0,940.6 1241.4,940.1 1241.8,940.2 1242.3,940.6 1243.3,942.1 1246.4,949.5 1249.2,957.4 1251.0,960.6 1251.5,961.2 1252.0,961.6 1253.7,961.5 1255.5,960.8 1257.2,959.7 1258.7,958.2 1259.2,955.7 1260.5,945.8 1262.0,938.9 1262.5,937.4 1262.9,936.9 1263.1,936.9 1263.4,937.3 1263.9,938.8 1267.1,953.4 1267.5,954.9 1267.9,955.8 1268.2,955.9 1268.6,954.9 1271.3,942.0 1271.8,940.2 1272.2,939.5 1272.5,939.6 1272.9,940.5 1274.3,946.3 1275.7,950.9 1276.3,952.0 1276.8,951.7 1277.4,950.5 1278.0,948.5 1279.7,940.0 1280.2,936.1 1281.9,917.7 1283.6,907.7 1284.2,905.6 1284.7,905.0 1285.1,905.9 1285.5,908.4 1287.0,922.5 1288.5,932.9 1289.6,939.5 1290.7,944.5 1292.4,950.7 1294.7,956.3 1295.4,957.5 1296.0,958.2 1296.5,958.3 1297.3,958.1 1298.5,957.2 1301.2,954.3 1304.0,951.8 1305.2,950.6 1307.0,947.8 1307.9,945.2 1309.2,938.5 1310.5,928.5 1311.9,903.5 1312.4,897.1 1313.4,892.9 1313.8,891.9 1314.2,891.6 1314.5,892.6 1314.9,896.3 1317.1,926.6 1317.7,932.4 1319.1,936.3 1319.8,937.6 1320.5,938.3 1321.1,938.5 1322.1,938.3 1323.1,937.8 1324.3,936.9 1325.5,935.8 1326.3,934.5 1327.2,932.4 1328.0,929.9 1329.5,923.4 1330.5,914.9 1331.4,903.2 1332.4,886.3 1333.7,843.7 1334.4,828.8 1335.1,817.2 1335.4,814.6 1335.6,814.1 1336.0,816.9 1336.5,826.5 1339.0,893.2 1340.3,909.2 1340.9,914.2 1341.4,917.0 1342.8,920.5 1343.8,922.2 1344.7,922.9 1345.7,922.7 1346.7,922.0 1347.9,920.3 1349.1,918.0 1349.9,914.8 1351.1,904.9 1352.4,888.3 1353.1,870.6 1356.2,762.1 1356.4,757.8 1356.8,753.9 1357.3,750.8 1357.7,749.9 1358.1,750.5 1358.5,752.1 1360.6,764.7 1361.6,767.8 1363.8,773.2 1365.0,777.5 1366.2,783.7 1367.3,791.5 1368.2,799.8 1368.9,809.7 1372.8,885.0 1374.1,905.0 1375.1,917.5 1376.6,929.8 1378.1,938.5 1378.7,940.7 1380.1,944.5 1381.1,946.6 1382.0,947.9 1382.5,948.3 1383.0,948.4 1383.4,948.0 1383.8,947.1 1384.6,944.3 1389.1,925.7 1391.3,920.0 1392.0,918.8 1392.7,918.1 1393.2,918.0 1393.8,918.5 1395.1,921.2 1397.4,927.7 1400.0,937.1 1401.7,942.1 1402.5,943.5 1402.9,943.6 1403.3,942.6 1405.0,932.8 1405.4,931.4 1405.9,930.6 1407.1,929.3 1407.6,929.1 1408.1,929.0 1408.6,929.7 1409.8,932.5 1410.2,933.0 1410.4,932.9 1410.8,930.6 1411.2,926.1 1413.5,892.7 1414.2,889.2 1414.5,888.3 1414.8,888.0 1415.1,888.4 1415.5,890.1 1416.6,897.8 1419.4,932.4 1419.9,936.4 1420.9,940.7 1421.8,943.4 1422.6,944.7 1423.7,945.3 1426.2,945.8 1427.0,946.3 1427.6,947.4 1429.0,951.4 1429.6,952.8 1431.7,955.3 1433.4,956.6 1434.2,956.9 1437.0,957.3 1439.4,957.5 1440.4,957.4 1441.1,956.9 1441.9,956.0 1443.6,952.8 1444.7,950.0 1445.6,945.4 1446.9,936.1 1448.3,923.0 1449.0,920.6 1449.3,920.0 1449.6,919.8 1449.9,920.2 1450.3,922.0 1451.4,929.8 1452.9,947.8 1453.8,951.8 1454.7,954.7 1455.3,955.9 1455.9,956.3 1456.8,955.9 1457.8,954.7 1458.3,953.9 1458.6,953.0 1460.0,946.9 1460.3,946.2 1460.5,946.1 1460.7,946.2 1461.5,947.7 1462.8,952.2 1464.3,959.6 1465.8,962.0 1466.6,962.8 1467.4,963.4 1468.3,963.8 1470.8,964.0 1477.8,964.3 1479.2,963.9 1482.5,962.0 1483.9,961.5 1493.7,961.5 1494.2,961.1 1494.8,960.4 1498.1,954.1 1498.7,953.5 1499.0,953.7 1499.3,954.4 1500.9,959.6 1502.3,961.6 1503.4,962.5 1504.2,962.6 1505.8,962.4 1511.3,961.2 1513.6,960.9 1515.2,961.1 1518.3,962.3 1519.6,962.6 1520.9,962.5 1524.1,961.7 1525.6,961.5 1526.5,962.1 1528.9,965.3 1529.5,965.5 1530.6,965.3 1531.6,964.8 1532.7,963.9 1535.3,961.1 1536.7,958.4 1537.9,954.5 1538.5,950.5 1539.6,937.9 1541.0,924.6 1542.1,918.8 1542.5,917.5 1542.9,917.0 1543.3,917.7 1543.7,919.7 1544.9,929.0 1546.5,947.7 1547.4,952.8 1548.0,954.9 1548.3,955.2 1548.9,955.0 1551.4,952.2 1552.0,951.9 1552.5,951.9 1553.1,953.0 1554.5,957.3 1556.9,962.5 1559.3,965.2 1561.5,966.8 1562.4,967.1 1563.2,967.2 1565.2,967.1 1567.1,966.8 1568.0,966.4 1569.0,965.0" stroke="#808080"/>
<path d="M215.0,1347.8 373.7,1346.5 398.8,1346.1 426.5,1345.2 438.3,1345.0 502.9,1345.3 556.4,1346.3 598.4,1346.2 621.8,1345.9 625.4,1345.1 630.0,1343.3 631.5,1342.1 634.8,1338.7 636.4,1337.7 637.2,1337.5 643.0,1337.5 644.3,1337.1 645.3,1336.5 646.3,1335.6 648.6,1332.8 650.4,1330.1 651.1,1328.7 652.1,1326.0 653.4,1321.6 655.0,1315.2 658.6,1297.1 659.4,1293.7 659.8,1292.7 661.1,1290.5 661.9,1289.6 662.6,1289.3 663.2,1289.5 663.9,1290.0 665.7,1292.3 666.5,1294.3 668.3,1300.2 669.1,1302.0 670.2,1303.1 672.8,1304.7 674.0,1306.1 674.7,1308.5 676.5,1318.2 678.5,1325.1 679.3,1327.3 680.0,1328.8 680.5,1329.4 682.0,1330.6 684.1,1331.8 686.7,1332.8 689.3,1333.6 693.9,1334.5 695.8,1335.1 697.1,1336.0 701.0,1339.7 705.9,1342.7 708.8,1343.9 710.4,1344.1 718.2,1344.1 719.1,1343.8 721.1,1342.8 722.0,1342.6 723.0,1342.9 725.3,1344.6 726.4,1345.0 741.1,1344.5 742.3,1345.0 745.0,1346.9 746.2,1347.3 756.2,1347.6 767.8,1347.7 786.1,1346.9 788.3,1347.1 793.3,1348.0 795.3,1348.2 884.8,1348.1 1020.1,1347.0 1102.2,1347.5 1111.6,1347.2 1122.9,1346.4 1142.3,1344.8 1158.4,1342.9 1165.2,1342.5 1170.1,1342.8 1180.4,1344.5 1184.8,1345.0 1198.0,1345.4 1225.8,1345.4 1227.2,1345.1 1228.7,1344.4 1230.4,1343.2 1232.1,1341.8 1232.9,1340.8 1233.7,1339.4 1235.2,1335.6 1235.8,1333.2 1236.3,1329.6 1238.6,1307.4 1239.6,1301.6 1240.0,1300.2 1240.3,1299.8 1240.6,1300.7 1240.9,1303.1 1242.6,1322.7 1243.0,1325.7 1243.1,1325.8 1243.6,1325.7 1245.4,1324.5 1245.7,1324.5 1246.0,1324.8 1246.6,1326.4 1248.1,1331.8 1250.3,1337.9 1251.5,1340.4 1252.4,1341.3 1254.0,1342.4 1255.2,1342.8 1256.3,1342.9 1257.9,1342.6 1259.7,1342.1 1261.9,1340.0 1262.7,1339.7 1263.1,1340.1 1264.1,1342.4 1264.5,1342.9 1269.8,1342.6 1272.5,1342.1 1273.9,1341.4 1277.4,1338.3 1279.7,1336.7 1280.4,1335.9 1281.1,1334.6 1281.5,1330.1 1282.3,1314.2 1283.1,1307.1 1283.6,1304.9 1283.7,1304.8 1283.9,1305.1 1284.3,1307.3 1286.6,1327.9 1286.8,1328.3 1287.2,1327.9 1288.0,1324.8 1288.7,1319.4 1288.9,1314.6 1290.4,1224.0 1290.6,1218.0 1291.0,1214.2 1291.3,1213.2 1291.7,1223.6 1293.0,1297.9 1293.5,1316.5 1294.2,1332.9 1294.4,1334.6 1295.2,1336.9 1295.7,1337.7 1296.5,1338.6 1299.2,1340.7 1301.1,1341.5 1302.0,1341.6 1302.8,1341.5 1303.8,1341.0 1305.0,1340.1 1308.1,1336.7 1309.6,1334.6 1310.7,1332.2 1311.6,1329.1 1312.1,1324.8 1315.1,1282.8 1316.1,1277.8 1316.5,1276.7 1316.9,1276.3 1317.1,1276.8 1317.4,1278.9 1318.0,1286.6 1318.7,1297.5 1319.8,1319.4 1320.8,1328.1 1321.3,1330.9 1321.7,1332.1 1322.7,1333.5 1323.7,1334.6 1324.7,1335.2 1325.7,1335.3 1326.3,1334.9 1327.0,1333.9 1328.5,1329.9 1328.8,1328.5 1329.1,1325.5 1330.4,1307.5 1331.4,1300.2 1331.8,1298.4 1332.1,1297.9 1332.3,1298.1 1332.6,1299.2 1333.2,1303.2 1334.5,1314.9 1336.0,1330.8 1337.0,1336.1 1337.8,1338.7 1338.7,1339.5 1340.4,1340.4 1342.0,1340.9 1343.6,1341.0 1345.9,1340.5 1353.6,1337.7 1355.7,1336.8 1357.5,1335.7 1358.7,1334.4 1360.0,1332.6 1361.6,1329.6 1363.1,1326.1 1364.1,1323.0 1365.0,1319.1 1365.7,1314.8 1366.3,1308.4 1367.4,1292.5 1368.5,1270.1 1369.5,1258.0 1370.1,1254.4 1370.3,1254.3 1370.5,1254.7 1370.9,1256.2 1372.0,1264.1 1372.6,1270.0 1373.7,1287.5 1374.0,1290.0 1374.7,1292.9 1375.2,1294.3 1375.6,1294.9 1376.0,1294.9 1376.3,1294.3 1377.1,1290.6 1378.1,1283.0 1378.7,1272.8 1379.9,1242.9 1381.8,1186.5 1384.9,1083.7 1388.9,927.0 1389.7,904.8 1390.1,898.8 1390.4,897.4 1390.8,906.1 1391.2,928.3 1392.1,999.9 1393.2,1115.6 1393.7,1147.5 1394.5,1184.2 1395.6,1224.2 1397.1,1262.1 1397.6,1270.0 1398.5,1279.8 1399.2,1285.3 1399.9,1288.4 1401.2,1290.8 1401.8,1291.4 1402.3,1291.6 1402.7,1290.6 1403.2,1286.7 1403.9,1277.3 1404.6,1264.6 1405.4,1233.0 1405.8,1238.0 1407.8,1288.4 1409.3,1307.8 1409.9,1312.4 1410.5,1314.6 1411.3,1316.6 1412.3,1318.4 1418.5,1326.6 1420.4,1328.7 1423.2,1331.4 1424.8,1332.8 1426.1,1333.7 1427.4,1334.3 1430.0,1334.7 1433.2,1335.0 1435.8,1335.1 1436.6,1334.7 1437.5,1334.0 1439.6,1331.0 1440.3,1329.4 1440.9,1327.4 1442.1,1321.2 1443.3,1311.6 1444.2,1300.9 1445.4,1256.7 1446.0,1214.5 1446.3,1203.7 1446.6,1209.0 1447.9,1263.1 1448.2,1269.4 1448.7,1271.1 1449.3,1272.4 1450.0,1273.3 1451.4,1274.4 1452.0,1275.1 1452.6,1276.2 1453.1,1277.7 1453.6,1282.2 1455.2,1303.5 1456.2,1309.1 1457.4,1314.0 1462.1,1329.2 1463.2,1331.8 1463.7,1332.5 1464.3,1333.0 1466.5,1334.4 1468.6,1335.3 1470.7,1335.8 1472.7,1335.9 1475.1,1335.5 1477.6,1334.7 1481.0,1333.1 1482.8,1331.9 1484.3,1330.2 1485.7,1327.9 1487.1,1325.0 1488.2,1322.0 1489.0,1318.5 1489.7,1314.2 1491.0,1302.5 1492.3,1284.3 1494.1,1212.5 1494.5,1203.7 1494.8,1210.7 1496.3,1277.4 1496.7,1288.4 1497.4,1300.2 1498.2,1310.2 1499.0,1316.4 1500.9,1324.1 1501.9,1327.0 1502.9,1329.1 1503.8,1330.5 1504.7,1331.5 1506.2,1332.6 1507.9,1333.5 1519.0,1338.5 1522.8,1339.5 1527.5,1340.5 1532.1,1341.0 1552.5,1341.0 1568.6,1340.7" stroke="#000000"/>
</g>
<text class="big" x="230.9" y="136.8" textLength="115" lengthAdjust="spacingAndGlyphs">MSG</text>
<text class="lab" x="219.1" y="490.7" textLength="346.2" lengthAdjust="spacingAndGlyphs">PCL/Starch/MSG</text>
<text class="lab" x="220.3" y="603.5" textLength="230.2" lengthAdjust="spacingAndGlyphs">PCL/Starch</text>
<text class="lab" x="224.6" y="723.3" textLength="309.2" lengthAdjust="spacingAndGlyphs">PCL/PEG/MSG</text>
<text class="lab" x="220.8" y="817.4" textLength="192.2" lengthAdjust="spacingAndGlyphs">PCL/PEG</text>
<text class="lab" x="228.4" y="959.1" textLength="88.2" lengthAdjust="spacingAndGlyphs">PCL</text>
<text class="lab" x="216.7" y="1331.8" textLength="91.2" lengthAdjust="spacingAndGlyphs">PEG</text>
<text class="tick" x="214.7" y="1440.5" textLength="115" lengthAdjust="spacingAndGlyphs">4000</text>
<text class="tick" x="418.2" y="1440.5" textLength="115" lengthAdjust="spacingAndGlyphs">3500</text>
<text class="tick" x="621.6" y="1440.5" textLength="115" lengthAdjust="spacingAndGlyphs">3000</text>
<text class="tick" x="825.1" y="1440.5" textLength="115" lengthAdjust="spacingAndGlyphs">2500</text>
<text class="tick" x="1028.6" y="1440.5" textLength="115" lengthAdjust="spacingAndGlyphs">2000</text>
<text class="tick" x="1232.1" y="1440.5" textLength="115" lengthAdjust="spacingAndGlyphs">1500</text>
<text class="tick" x="1435.5" y="1440.5" textLength="115" lengthAdjust="spacingAndGlyphs">1000</text>
<text class="ttl" x="627" y="1547.5" textLength="484" lengthAdjust="spacingAndGlyphs">wavelenght, cm</text>
<text class="ttl" x="1112.5" y="1525.3" style="font-size:45px" textLength="45.5" lengthAdjust="spacingAndGlyphs">−1</text>
<text class="ttl" transform="translate(58,916.5) rotate(-90)" x="0" y="0" textLength="390.5" lengthAdjust="spacingAndGlyphs">Adsorbance,</text>
<text class="ttl" transform="translate(55.5,508.3) rotate(-90)" x="0" y="0" style="font-size:80px" textLength="31" lengthAdjust="spacingAndGlyphs">–</text>
</svg></body></html>
